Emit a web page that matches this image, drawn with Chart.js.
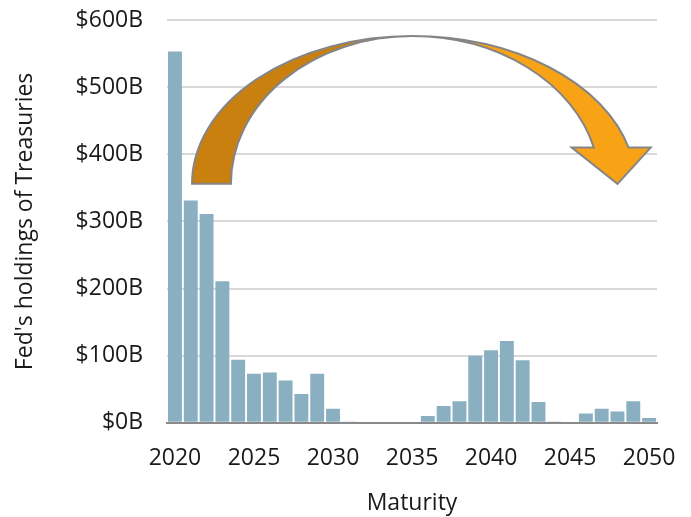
<!DOCTYPE html>
<html>
<head>
<meta charset="utf-8">
<script src="https://cdn.jsdelivr.net/npm/chart.js@4"></script>
<style>
  html, body { margin: 0; padding: 0; background: #fff; }
  #wrap { width: 691px; height: 517px; }
</style>
</head>
<body>
<div id="wrap"><canvas id="myChart"></canvas></div>
<script>
const years = ['2020', '2021', '2022', '2023', '2024', '2025', '2026', '2027', '2028', '2029',
  '2030', '2031', '2032', '2033', '2034', '2035', '2036', '2037', '2038', '2039',
  '2040', '2041', '2042', '2043', '2044', '2045', '2046', '2047', '2048', '2049', '2050'];
// Fed's holdings of Treasuries maturing each year, $ billions
const holdings = [553, 331, 311, 211, 94, 73, 75, 63, 43, 73,
  21, 1, 0, 0, 0, 0, 10, 25, 32, 100,
  108, 122, 93, 31, 2, 0, 14, 21, 17, 32, 7];
const yTicks = [0, 100, 200, 300, 400, 500, 600];

const FONT = "'Open Sans', sans-serif";
const FSIZE = 23;

// the big curved arrow, placed by the chart's own scales
const curvedArrow = {
  id: 'curvedArrow',
  afterDatasetsDraw(chart) {
    const c = chart.ctx;
    const xs = chart.scales.x, ys = chart.scales.y;
    const px = i => xs.getPixelForValue(i);
    const py = v => ys.getPixelForValue(v);

    const cx = px(15), cy = py(356), top = py(576);
    const ry = cy - top;
    const yShaft = py(410);
    const s = (cy - yShaft) / ry;
    const a = 2 * Math.PI - Math.asin(s);
    const rxOut2 = (px(28.7) - cx) / Math.sqrt(1 - s * s);
    const rxIn2 = (px(26.5) - cx) / Math.sqrt(1 - s * s);

    c.save();
    c.lineWidth = 2;
    c.strokeStyle = '#858585';
    c.lineJoin = 'miter';

    // right half with the head
    c.beginPath();
    c.ellipse(cx, cy, rxOut2, ry, 0, 1.5 * Math.PI, a);
    c.lineTo(px(30.1), yShaft);
    c.lineTo(px(28), cy);
    c.lineTo(px(25.1), yShaft);
    c.lineTo(px(26.5), yShaft);
    c.ellipse(cx, cy, rxIn2, ry, 0, a, 1.5 * Math.PI, true);
    c.closePath();
    c.fillStyle = '#F8A316';
    c.fill();
    c.stroke();

    // left half (darker back)
    const rxOut1 = cx - px(1.08), rxIn1 = cx - px(3.54);
    c.beginPath();
    c.ellipse(cx, cy, rxOut1, ry, 0, Math.PI, 1.5 * Math.PI);
    c.ellipse(cx, cy, rxIn1, ry, 0, 1.5 * Math.PI, Math.PI, true);
    c.closePath();
    c.fillStyle = '#C9800E';
    c.fill();
    c.stroke();
    c.restore();
  }
};

const ctx = document.getElementById('myChart').getContext('2d');

const myChart = new Chart(ctx, {
  type: 'bar',
  data: {
    labels: years,
    datasets: [{
      label: "Fed's holdings of Treasuries",
      data: holdings,
      backgroundColor: '#8AAFC1',
      borderWidth: 0,
      barPercentage: 0.88,
      categoryPercentage: 1.0
    }]
  },
  options: {
    responsive: true,
    maintainAspectRatio: false,
    animation: false,
    layout: { padding: { top: 20, right: 34, left: 12, bottom: 0 } },
    plugins: {
      legend: { display: false },
      tooltip: { enabled: false }
    },
    scales: {
      x: {
        afterFit: axis => { axis.paddingRight = 0; },
        grid: { display: false, drawTicks: false },
        border: { color: '#8a8a8a', width: 2 },
        ticks: {
          autoSkip: false,
          maxRotation: 0,
          padding: 22,
          color: '#1a1a1a',
          font: { family: FONT, size: FSIZE },
          callback: (v, i) => (i % 5 === 0 ? years[i] : '')
        },
        title: {
          display: true,
          text: 'Maturity',
          color: '#1a1a1a',
          font: { family: FONT, size: FSIZE },
          padding: { top: -5, bottom: 0 }
        }
      },
      y: {
        min: 0,
        max: 600,
        afterBuildTicks: axis => { axis.ticks = yTicks.map(v => ({ value: v })); },
        afterFit: axis => { axis.paddingTop = 0; },
        grid: { color: '#d9d9d9', lineWidth: 2, drawTicks: false },
        border: { display: false },
        ticks: {
          padding: 24,
          color: '#1a1a1a',
          font: { family: FONT, size: FSIZE },
          callback: v => '$' + v + 'B'
        },
        title: {
          display: true,
          text: "Fed's holdings of Treasuries",
          color: '#1a1a1a',
          font: { family: FONT, size: FSIZE },
          padding: { top: 0, bottom: 12 }
        }
      }
    }
  },
  plugins: [curvedArrow]
});
</script>
</body>
</html>
